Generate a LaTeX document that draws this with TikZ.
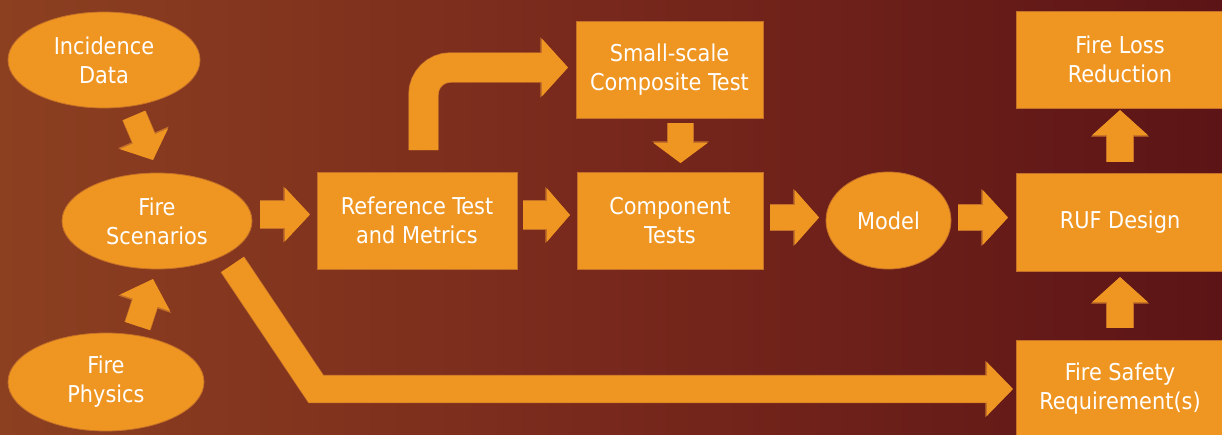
\documentclass[tikz,border=0pt]{standalone}
\usepackage{fontspec}
\setmainfont{DejaVu Sans Condensed}
\usetikzlibrary{shapes.geometric,arrows.meta}
\definecolor{org}{RGB}{239,149,33}
\definecolor{orgline}{RGB}{196,112,40}
\definecolor{bgA}{RGB}{140,64,32}
\definecolor{bgM}{RGB}{120,40,28}
\definecolor{bgB}{RGB}{92,20,22}
\begin{document}
\begin{tikzpicture}[x=1pt,y=-1pt,
  shp/.style={text=white, font=\fontsize{23.2}{29}\selectfont, align=center,
    inner sep=0pt, fill=org, draw=orgline, line width=0.8pt},
  oval/.style={shp, ellipse},
  box/.style={shp, rectangle},
  blk/.style n args={3}{draw=org, line width=#1pt, line join=miter,
    -{Triangle[length=#3pt,width=#2pt]}},
  blkout/.style n args={3}{draw=orgline, line width=#1pt+1.4pt, line join=miter,
    -{Triangle[length=#3pt+1.6pt,width=#2pt+2.6pt]}}
]
\useasboundingbox (0,0) rectangle (1222,434);
\clip (0,0) rectangle (1222,434);
% background
\shade[left color=bgA, right color=bgB, middle color=bgM] (0,0) rectangle (1222,434);

% nodes
\node[oval, minimum width=192pt, minimum height=96pt] (inc) at (104,60) {Incidence\\Data};
\node[oval, minimum width=190pt, minimum height=96pt] (scen) at (157,221) {Fire\\Scenarios};
\node[oval, minimum width=196pt, minimum height=98pt] (phys) at (106,382) {Fire\\Physics};
\node[box, minimum width=200pt, minimum height=97pt] (ref) at (417,220.5) {Reference Test\\and Metrics};
\node[box, minimum width=187pt, minimum height=97pt] (small) at (669.5,69.5) {Small-scale\\Composite Test};
\node[box, minimum width=186pt, minimum height=97pt] (comp) at (670,220.5) {Component\\Tests};
\node[oval, minimum width=125pt, minimum height=97pt] (model) at (888.5,220.5) {Model};
\node[box, minimum width=208pt, minimum height=97pt] (loss) at (1120,59.5) {Fire Loss\\Reduction};
\node[box, minimum width=208pt, minimum height=98pt] (ruf) at (1120,222) {RUF Design};
\node[box, minimum width=208pt, minimum height=97pt] (safe) at (1120,388.5) {Fire Safety\\Requirement(s)};

% connector end points
\coordinate (a1s) at (134,115.5);  \coordinate (a1e) at (153,160);
\coordinate (a2s) at (137.5,326);  \coordinate (a2e) at (153,279);
\coordinate (a3s) at (260,214.5);  \coordinate (a3e) at (310,214.5);
\coordinate (a4s) at (523,215);    \coordinate (a4e) at (570,215);
\coordinate (a5s) at (770,217.5);  \coordinate (a5e) at (819,217.5);
\coordinate (a6s) at (958,217.5);  \coordinate (a6e) at (1008,217.5);
\coordinate (a7s) at (680.5,123);  \coordinate (a7e) at (680.5,163);
\coordinate (a8s) at (1120,162);   \coordinate (a8e) at (1120,110);
\coordinate (a9s) at (1120,328);   \coordinate (a9e) at (1120,277);
\coordinate (b1s) at (423.5,150);  \coordinate (b1m) at (423.5,67.5); \coordinate (b1e) at (568,67.5);
\coordinate (c1s) at (232.5,264.5); \coordinate (c1m) at (316,389); \coordinate (c1e) at (1013,389);

% connectors (outline first, then fill)
\foreach \s/\e/\w/\h/\l in {a1s/a1e/24/51/23, a2s/a2e/26/51/25, a3s/a3e/27/52/25,
  a4s/a4e/28/52/23, a5s/a5e/25/53/24, a6s/a6e/25/53/25, a7s/a7e/25/53/20,
  a8s/a8e/26/54/25, a9s/a9e/26/54/25}{
  \draw[blkout={\w}{\h}{\l}] (\s) -- (\e);
  \draw[blk={\w}{\h}{\l}] (\s) -- (\e);
}
\draw[blkout={29}{56}{26}, rounded corners=27pt] (b1s) -- (b1m) -- (b1e);
\draw[blk={29}{56}{26}, rounded corners=27pt] (b1s) -- (b1m) -- (b1e);
\draw[blkout={27}{52}{26}] (c1s) -- (c1m) -- (c1e);
\draw[blk={27}{52}{26}] (c1s) -- (c1m) -- (c1e);
\end{tikzpicture}
\end{document}
